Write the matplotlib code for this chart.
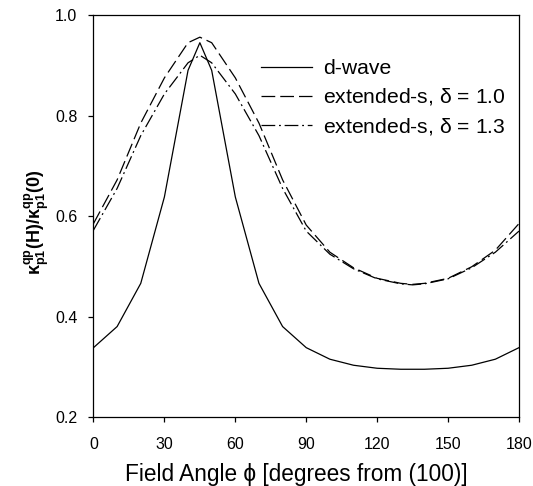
import matplotlib
matplotlib.use('Agg')
import matplotlib.pyplot as plt

plt.rcParams['font.family'] = ['Liberation Sans', 'DejaVu Sans']
plt.rcParams['mathtext.fontset'] = 'custom'
plt.rcParams['mathtext.rm'] = 'Liberation Sans'
plt.rcParams['mathtext.it'] = 'Liberation Sans:italic'
plt.rcParams['mathtext.bf'] = 'Liberation Sans:bold'

# field angle (degrees)
angle = [0, 10, 20, 30, 40, 45, 50, 60, 70, 80, 90, 100, 110, 120, 130, 135, 140, 150, 160, 170, 180]

d_wave = [0.338, 0.380, 0.466, 0.638, 0.890, 0.945, 0.890, 0.638, 0.466, 0.380, 0.338,
          0.315, 0.303, 0.297, 0.295, 0.295, 0.295, 0.297, 0.303, 0.315, 0.338]
ext_s_10 = [0.585, 0.672, 0.785, 0.875, 0.945, 0.956, 0.945, 0.875, 0.785, 0.672, 0.582,
            0.528, 0.497, 0.476, 0.466, 0.464, 0.466, 0.476, 0.499, 0.532, 0.585]
ext_s_13 = [0.572, 0.655, 0.760, 0.843, 0.905, 0.920, 0.905, 0.843, 0.760, 0.655, 0.570,
            0.524, 0.495, 0.475, 0.465, 0.463, 0.465, 0.475, 0.497, 0.528, 0.570]

fig = plt.figure(figsize=(5.33, 4.86), dpi=100)
ax = fig.add_axes([0.1754, 0.142, 0.7983, 0.827])

ax.plot(angle, d_wave, color='black', lw=0.9, label='d-wave')
ax.plot(angle, ext_s_10, color='black', lw=0.9, dashes=(11, 4),
        label=r'extended-s, $\mathrm{\delta}$ = 1.0')
ax.plot(angle, ext_s_13, color='black', lw=0.9, dashes=(11, 3, 1.5, 3),
        label=r'extended-s, $\mathrm{\delta}$ = 1.3')

ax.set_xlim(0, 180)
ax.set_ylim(0.2, 1.0)
ax.set_xticks([0, 30, 60, 90, 120, 150, 180])
ax.set_yticks([0.2, 0.4, 0.6, 0.8, 1.0])
ax.tick_params(direction='out', length=3.6, width=0.9, labelsize=11.5)
ax.tick_params(axis='x', pad=11)
ax.tick_params(axis='y', pad=8)
for s in ax.spines.values():
    s.set_linewidth(0.9)

ax.set_xlabel('Field Angle ϕ [degrees from (100)]', fontsize=16.3)
ax.xaxis.set_label_coords(0.477, -0.115)
ax.set_ylabel(r'$\mathbf{\kappa^{qp}_{p1}(H)/\kappa^{qp}_{p1}(0)}$', fontsize=13)
ax.yaxis.set_label_coords(-0.10, 0.483)

ax.legend(loc='upper left', bbox_to_anchor=(0.35, 0.938), frameon=False, fontsize=15.2,
          handlelength=2.4, handletextpad=0.5, labelspacing=0.4)

fig.savefig('out.png', dpi=100)
